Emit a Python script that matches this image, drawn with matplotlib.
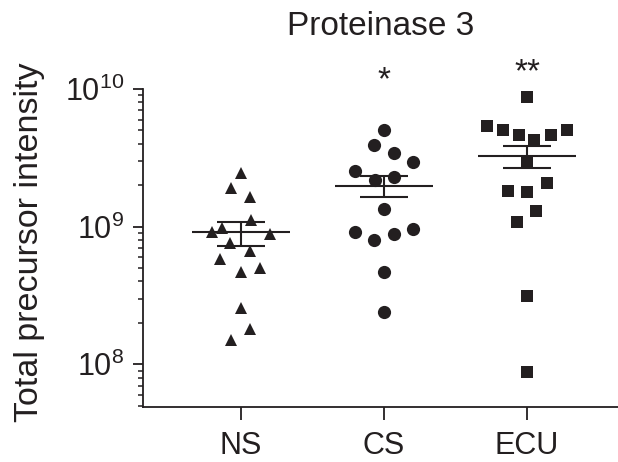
import matplotlib
matplotlib.use('Agg')
import matplotlib.pyplot as plt
import matplotlib.transforms as mtransforms
import numpy as np

plt.rcParams['font.family'] = ['Liberation Sans', 'DejaVu Sans']
plt.rcParams['mathtext.fontset'] = 'custom'
plt.rcParams['mathtext.rm'] = 'Liberation Sans'
plt.rcParams['mathtext.default'] = 'regular'

ink = '#231f20'

groups = ['NS', 'CS', 'ECU']
markers = ['^', 'o', 's']
marker_sizes = [9, 9.5, 9]

# total precursor intensity per sample
ns_values = [2.47e9, 1.92e9, 1.65e9, 1.12e9, 9.8e8, 9.2e8, 8.9e8, 7.65e8,
             6.69e8, 5.85e8, 5.03e8, 4.71e8, 2.58e8, 1.81e8, 1.51e8]
cs_values = [5.07e9, 3.94e9, 3.43e9, 2.94e9, 2.53e9, 2.30e9, 2.17e9,
             1.35e9, 9.62e8, 9.1e8, 8.89e8, 8.04e8, 4.69e8, 2.42e8]
ecu_values = [8.77e9, 5.36e9, 5.07e9, 5.01e9, 4.67e9, 4.61e9, 4.24e9,
              2.99e9, 2.08e9, 1.83e9, 1.78e9, 1.29e9, 1.09e9, 3.15e8, 8.8e7]

# horizontal spread of the dots so they don't overlap
ns_spread = [0, -0.07, 0.065, 0.07, -0.135, -0.205, 0.2, -0.075,
             0.06, -0.145, 0.13, 0, 0, 0.065, -0.07]
cs_spread = [0, -0.07, 0.07, 0.2, -0.2, 0.07, -0.065,
             0, 0.2, -0.2, 0.07, -0.07, 0, 0]
ecu_spread = [0, -0.28, 0.28, -0.17, 0.17, -0.055, 0.05,
              0, 0.14, -0.135, 0, 0.065, -0.07, 0, 0]

# mean +/- s.e.m.
means = [9.2e8, 1.99e9, 3.28e9]
sem_upper = [1.087e9, 2.35e9, 3.84e9]
sem_lower = [7.28e8, 1.63e9, 2.67e9]

stars = ['', '*', '**']

values = [ns_values, cs_values, ecu_values]
spreads = [ns_spread, cs_spread, ecu_spread]

fig = plt.figure(figsize=(6.18, 4.62), dpi=100)
ax = fig.add_axes([143 / 618, 1 - 407 / 462, 475 / 618, 318 / 462])

for i, (vals, dx) in enumerate(zip(values, spreads)):
    xs = i + np.array(dx)
    ax.plot(xs, vals, linestyle='none', marker=markers[i],
            markersize=marker_sizes[i], color=ink, markeredgewidth=0,
            zorder=2)

xpos = np.arange(len(groups))
ax.hlines(means, xpos - 0.34, xpos + 0.34, color=ink, lw=1.5, zorder=3)
ax.hlines(sem_upper, xpos - 0.17, xpos + 0.17, color=ink, lw=1.5, zorder=3)
ax.hlines(sem_lower, xpos - 0.17, xpos + 0.17, color=ink, lw=1.5, zorder=3)
ax.vlines(xpos, sem_lower, sem_upper, color=ink, lw=1.5, zorder=3)

ax.set_yscale('log')
ax.set_ylim(4.9e7, 1e10)
ax.set_xlim(-0.685, 2.636)

trans = mtransforms.blended_transform_factory(ax.transData, ax.transAxes)
star_y = [1.0, 0.998, 1.024]
for i, s in enumerate(stars):
    if s:
        ax.text(i, star_y[i], s, transform=trans, ha='center', va='baseline',
                fontsize=24, color=ink, clip_on=False)

ax.set_xticks(xpos)
ax.set_xticklabels(groups)

for side in ['top', 'right']:
    ax.spines[side].set_visible(False)
for side in ['left', 'bottom']:
    ax.spines[side].set_linewidth(1.3)
    ax.spines[side].set_color(ink)

ax.tick_params(axis='x', which='major', length=9, width=1.3, pad=8,
               labelsize=22, colors=ink)
ax.tick_params(axis='y', which='major', length=7.5, width=1.3, pad=6,
               labelsize=22, colors=ink)
ax.tick_params(axis='y', which='minor', length=3.8, width=1.1, colors=ink)

ax.set_ylabel('Total precursor intensity', fontsize=24.5, color=ink)
ax.yaxis.set_label_coords(-0.206, 0.517)
ax.set_title('Proteinase 3', fontsize=24, color=ink, pad=39)

fig.savefig('out.png', dpi=100)
